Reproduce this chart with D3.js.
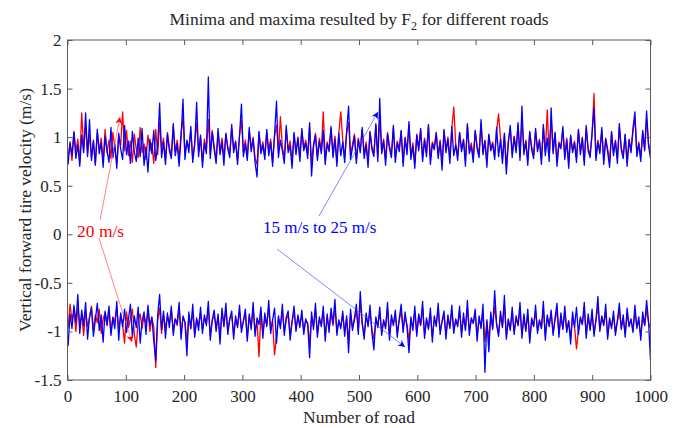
<!DOCTYPE html>
<html lang="en">
<head>
<meta charset="utf-8">
<title>Minima and maxima resulted by F2</title>
<script src="https://d3js.org/d3.v7.min.js"></script>
<style>
    body { margin: 0; background: #fff; }
    text { font-family: "Liberation Serif", "Times New Roman", serif; fill: #262626; }
    .frame { fill: none; stroke: #5a5a5a; stroke-width: 1; }
    .tick line { stroke: #5a5a5a; }
</style>
</head>
<body>
<svg width="681" height="428"></svg>
<script>
// axis ticks
var xTicks = [0, 100, 200, 300, 400, 500, 600, 700, 800, 900, 1000];
var yTicks = [-1.5, -1, -0.5, 0, 0.5, 1, 1.5, 2];

// 300 samples along the 1000 roads
var nSamples = 300;

// maxima, 20 m/s (red)
var redMax = [
 0.80,0.93,0.76,1.06,0.85,0.98,0.74,1.25,0.88,1.12,0.83,1.02,0.79,0.95,0.73,1.04,0.87,0.99,0.75,1.08,
 0.84,0.97,0.78,1.05,0.89,0.73,1.01,0.92,1.26,0.86,1.07,0.81,0.96,0.74,1.03,0.88,0.79,1.10,0.84,0.93,
 0.77,1.02,0.86,0.94,0.73,1.08,0.82,1.15,0.88,0.99,0.76,1.05,0.90,0.81,1.11,0.85,0.97,0.78,1.04,1.20,
 0.83,0.96,0.89,1.06,0.78,0.94,1.14,0.85,1.00,0.75,0.98,0.87,1.18,0.82,1.07,0.91,0.77,1.05,0.86,0.99,
 0.79,1.03,0.90,0.84,1.09,0.88,0.95,0.76,1.02,1.17,0.85,0.97,0.80,1.06,0.89,1.00,0.78,0.72,1.04,0.87,
 0.95,0.81,1.05,0.86,0.98,0.75,1.01,1.12,0.84,1.21,0.90,0.79,1.08,0.87,0.96,0.74,1.03,0.85,1.00,0.80,
 1.06,0.89,0.97,0.82,1.10,0.74,0.93,1.04,0.80,0.99,0.86,1.26,0.78,0.95,0.88,1.09,0.83,1.01,0.76,1.05,
 1.26,0.97,0.79,1.04,1.15,0.82,0.92,1.03,0.78,0.99,0.88,1.08,0.83,0.95,0.75,1.06,0.90,0.84,1.12,0.80,
 1.18,0.87,0.98,0.77,1.05,0.91,0.83,1.10,0.79,0.96,0.88,1.06,0.75,1.00,0.86,1.13,0.81,0.94,0.74,1.03,
 0.89,1.07,0.79,0.99,0.84,1.11,0.77,0.95,0.90,1.05,0.82,0.97,0.73,1.06,0.87,1.00,0.78,1.09,1.31,0.93,
 0.81,1.04,0.88,0.98,0.76,1.12,0.86,0.94,0.79,1.06,0.91,0.83,1.14,0.85,0.97,0.75,1.02,0.89,0.95,0.81,
 1.07,1.24,0.99,0.78,1.03,0.70,0.96,1.09,0.83,1.01,0.87,1.12,0.80,1.18,0.86,0.97,0.76,1.05,0.90,0.82,
 1.06,0.88,0.98,0.77,1.10,0.85,1.28,0.80,1.20,0.86,1.04,0.76,0.95,0.90,1.08,0.81,0.99,0.74,1.01,0.87,
 0.96,0.79,1.06,0.85,1.00,0.76,1.09,0.88,0.83,1.03,1.45,0.80,0.97,0.86,1.07,0.77,0.99,0.88,0.74,1.04,
 0.84,0.97,0.78,1.10,0.89,0.82,1.02,0.75,0.98,0.87,1.06,1.20,0.83,0.95,0.79,1.05,0.88,1.18,0.93,0.86
];

// maxima, 15 m/s to 25 m/s (blue)
var blueMax = [
 0.72,0.95,0.81,1.05,0.78,0.92,0.70,1.02,0.84,1.25,0.80,1.18,0.76,0.97,0.71,1.08,0.83,0.94,0.69,1.01,
 0.86,0.74,1.10,0.79,0.93,0.68,1.04,0.88,0.77,1.12,0.82,0.96,0.73,1.06,0.85,0.75,0.99,0.80,1.09,0.71,
 0.90,0.64,0.98,0.83,1.07,0.76,0.91,1.35,0.79,0.95,0.72,1.03,0.86,0.78,1.14,0.81,0.93,0.70,1.00,1.39,
 0.77,0.97,0.84,1.11,0.74,0.92,1.36,0.80,1.02,0.69,0.94,0.83,1.62,0.78,1.05,0.87,0.73,1.09,0.82,0.95,
 0.71,1.04,0.88,0.79,1.13,0.84,0.96,0.72,1.01,1.34,0.80,0.93,0.76,1.10,0.85,0.98,0.74,0.59,1.06,0.83,
 0.92,0.77,1.08,0.81,0.95,0.70,1.03,1.37,0.79,0.97,0.86,0.73,1.12,0.84,0.91,0.68,1.05,0.82,0.99,0.75,
 1.09,0.86,0.94,0.78,1.15,0.60,0.90,1.02,0.76,0.96,0.83,1.07,0.72,0.93,0.85,1.11,0.79,0.98,0.70,1.04,
 0.81,0.95,0.74,1.06,1.32,0.77,0.89,1.01,0.73,0.97,0.84,1.10,0.78,0.92,0.69,1.05,0.87,0.80,1.14,0.75,
 1.40,0.83,0.96,0.71,1.03,0.88,0.79,1.12,0.74,0.94,0.85,1.07,0.70,0.99,0.82,1.16,0.77,0.91,0.68,1.02,
 0.86,1.09,0.75,0.97,0.80,1.13,0.72,0.93,0.87,1.04,0.78,0.95,0.66,1.08,0.84,0.98,0.73,1.11,0.81,0.92,
 0.76,1.05,0.85,0.97,0.70,1.14,0.83,0.91,0.74,1.07,0.88,0.79,1.18,0.82,0.96,0.69,1.03,0.86,0.93,0.77,
 1.10,0.80,0.98,0.73,1.04,0.62,0.94,1.12,0.79,1.00,0.84,1.15,0.76,1.32,0.82,0.95,0.71,1.06,0.87,0.78,
 1.09,0.85,0.96,0.72,1.13,0.81,0.99,0.75,1.30,0.83,1.05,0.70,0.93,0.88,1.11,0.77,0.97,0.68,1.02,0.84,
 0.94,0.74,1.08,0.82,0.99,0.71,1.12,0.86,0.79,1.04,1.30,0.76,0.95,0.83,1.10,0.72,0.98,0.85,0.69,1.06,
 0.81,0.96,0.73,1.14,0.87,0.78,1.03,0.70,0.97,0.84,1.09,1.26,0.80,0.93,0.75,1.07,0.86,1.27,0.91,0.78
];

// minima, 20 m/s (red)
var redMin = [
 -0.97,-0.72,-0.88,-0.80,-1.00,-0.76,-0.92,-0.84,-1.04,-0.79,-0.95,-0.86,-0.74,-0.99,-0.83,-0.91,-0.77,-1.02,-0.87,-0.81,
 -0.94,-0.78,-1.01,-0.85,-0.90,-0.75,-0.98,-0.83,-0.93,-1.12,-0.80,-0.96,-0.87,-0.77,-1.03,-1.16,-0.89,-0.82,-0.97,-0.84,
 -0.92,-0.79,-1.00,-0.86,-0.95,-1.37,-0.88,-0.76,-1.02,-0.83,-0.96,-0.85,-0.91,-0.78,-0.99,-0.87,-0.94,-0.75,-1.01,-0.86,
 -0.90,-1.10,-0.84,-0.97,-0.79,-1.03,-0.88,-0.93,-0.81,-0.98,-0.86,-0.92,-0.76,-1.04,-0.89,-0.83,-0.96,-0.85,-1.05,-0.80,
 -0.93,-0.78,-0.99,-0.87,-0.84,-1.02,-0.88,-0.94,-0.79,-0.97,-0.90,-0.82,-1.06,-0.85,-0.95,-0.77,-1.00,-0.89,-1.26,-0.81,
 -1.01,-0.86,-0.93,-0.76,-0.98,-0.89,-1.24,-1.05,-0.87,-0.94,-0.79,-1.00,-0.88,-0.83,-1.03,-0.90,-0.80,-0.97,-0.86,-0.92,
 -0.84,-0.99,-0.89,-0.91,-1.12,-0.85,-0.95,-0.78,-1.02,-0.88,-0.93,-0.80,-1.04,-0.86,-0.97,-0.82,-0.94,-0.75,-0.99,-0.90,
 -0.95,-0.83,-1.00,-0.87,-1.09,-0.82,-0.96,-0.89,-0.78,-0.99,-0.70,-0.93,-1.03,-0.85,-0.92,-0.80,-0.98,-1.08,-0.88,-0.94,
 -0.81,-1.00,-0.90,-0.95,-0.77,-1.04,-0.87,-0.92,-0.83,-1.01,-0.89,-0.79,-0.97,-0.85,-0.93,-1.10,-0.88,-0.96,-0.80,-1.02,
 -0.86,-0.94,-0.76,-1.03,-0.89,-0.96,-0.82,-1.05,-0.88,-0.92,-0.78,-0.99,-0.90,-0.84,-1.02,-0.87,-0.95,-0.79,-0.98,-0.89,
 -0.93,-0.80,-1.01,-0.86,-0.97,-0.76,-0.99,-0.88,-0.91,-0.82,-1.04,-0.87,-0.95,-0.79,-1.10,-0.90,-1.08,-0.85,-0.96,-0.74,
 -0.92,-1.02,-0.84,-0.95,-0.73,-1.05,-0.89,-0.97,-0.81,-1.00,-0.87,-0.93,-0.78,-1.03,-0.86,-0.98,-0.83,-1.07,-0.90,-0.94,
 -0.80,-0.99,-0.89,-0.96,-0.77,-1.04,-0.86,-0.93,-0.82,-1.01,-0.88,-0.79,-1.02,-0.85,-0.97,-0.81,-0.98,-0.90,-1.06,-0.84,
 -0.95,-1.18,-0.99,-0.87,-0.92,-0.78,-1.03,-0.86,-0.97,-0.83,-1.01,-0.89,-0.74,-0.98,-0.86,-0.93,-0.80,-1.04,-0.88,-0.95,
 -0.84,-1.00,-0.90,-0.79,-0.96,-0.87,-1.02,-0.82,-0.94,-0.88,-0.99,-0.80,-0.95,-0.89,-1.05,-0.85,-0.93,-0.78,-0.91,-0.97
];

// minima, 15 m/s to 25 m/s (blue)
var blueMin = [
 -1.15,-0.82,-0.97,-0.73,-0.91,-0.62,-1.02,-0.78,-0.94,-0.70,-1.08,-0.85,-0.76,-1.05,-0.88,-0.71,-0.99,-0.83,-1.11,-0.79,
 -0.93,-0.74,-1.04,-0.86,-0.97,-0.69,-1.09,-0.81,-0.95,-0.77,-1.01,-0.87,-0.72,-1.06,-0.84,-0.96,-0.75,-1.12,-0.89,-0.80,
 -1.03,-0.73,-0.94,-0.85,-1.10,-1.30,-0.83,-0.62,-0.98,-0.79,-1.07,-0.81,-0.96,-0.74,-1.04,-0.87,-0.92,-0.70,-1.08,-0.84,
 -0.91,-1.25,-0.80,-0.97,-0.72,-1.06,-0.86,-0.99,-0.75,-1.02,-0.83,-0.94,-0.69,-1.09,-0.88,-0.78,-1.00,-0.82,-1.13,-0.76,
 -0.95,-0.71,-1.03,-0.87,-0.79,-1.08,-0.84,-0.96,-0.73,-1.01,-0.89,-0.77,-1.10,-0.82,-0.98,-0.70,-1.05,-0.86,-0.93,-0.75,
 -1.07,-0.81,-0.95,-0.68,-1.02,-0.88,-0.76,-1.12,-0.84,-0.97,-0.72,-1.04,-0.85,-0.79,-1.09,-0.90,-0.74,-1.00,-0.83,-0.96,
 -0.78,-1.03,-0.87,-0.93,-1.27,-0.80,-0.98,-0.71,-1.06,-0.85,-0.95,-0.74,-1.10,-0.82,-1.01,-0.76,-0.92,-0.67,-1.04,-0.88,
 -0.97,-0.79,-1.05,-0.84,-1.22,-0.77,-0.99,-0.86,-0.72,-1.03,-0.59,-0.91,-1.08,-0.81,-0.95,-0.73,-1.02,-1.19,-0.85,-0.96,
 -0.75,-1.04,-0.88,-0.97,-0.70,-1.09,-0.83,-0.94,-0.78,-1.06,-0.87,-0.72,-1.01,-0.80,-0.96,-1.22,-0.85,-0.99,-0.74,-1.05,
 -0.82,-0.93,-0.69,-1.07,-0.86,-0.98,-0.76,-1.11,-0.84,-0.95,-0.71,-1.03,-0.89,-0.79,-1.08,-0.83,-0.97,-0.73,-1.02,-0.87,
 -0.95,-0.74,-1.06,-0.81,-0.99,-0.68,-1.04,-0.86,-0.92,-0.77,-1.10,-0.84,-0.97,-0.72,-1.42,-0.88,-1.21,-0.80,-0.98,-0.58,
 -0.93,-1.05,-0.79,-0.96,-0.63,-1.08,-0.87,-0.99,-0.75,-1.03,-0.84,-0.94,-0.70,-1.07,-0.82,-1.00,-0.77,-1.12,-0.86,-0.95,
 -0.73,-1.02,-0.88,-0.97,-0.69,-1.09,-0.83,-0.95,-0.78,-1.04,-0.86,-0.71,-1.06,-0.81,-0.98,-0.74,-1.01,-0.89,-1.13,-0.80,
 -0.96,-0.75,-1.03,-0.85,-0.93,-0.70,-1.07,-0.82,-0.99,-0.77,-1.05,-0.88,-0.64,-1.00,-0.84,-0.94,-0.72,-1.08,-0.86,-0.97,
 -0.79,-1.04,-0.89,-0.71,-0.98,-0.83,-1.06,-0.76,-0.95,-0.87,-1.01,-0.73,-0.97,-0.85,-1.09,-0.80,-0.94,-0.68,-0.90,-1.30
];

var roads = d3.range(nSamples).map(function (i) { return 1 + i * 999 / (nSamples - 1); });

var svg = d3.select("svg");
// plot box (note: "top" is reserved on window, so use a prefix)
var boxL = 67.5, boxR = 650.5, boxT = 40, boxB = 380;

var x = d3.scaleLinear().domain([0, 1000]).range([boxL, boxR]);
var y = d3.scaleLinear().domain([-1.5, 2]).range([boxB, boxT]);

svg.append("rect").attr("width", 681).attr("height", 428).attr("fill", "#fff");

var defs = svg.append("defs");
defs.append("clipPath").attr("id", "plotclip")
    .append("rect").attr("x", boxL).attr("y", boxT)
    .attr("width", boxR - boxL).attr("height", boxB - boxT);

var line = d3.line()
    .x(function (d, i) { return x(roads[i]); })
    .y(function (d) { return y(d); });

var series = [
    { values: redMax, color: "#ff0000" },
    { values: redMin, color: "#ff0000" },
    { values: blueMax, color: "#0000ff" },
    { values: blueMin, color: "#0000ff" }
];

svg.append("g").attr("clip-path", "url(#plotclip)")
    .selectAll("path")
    .data(series)
    .enter().append("path")
    .attr("fill", "none")
    .attr("stroke", function (d) { return d.color; })
    .attr("stroke-width", 1.3)
    .attr("stroke-linejoin", "round")
    .attr("d", function (d) { return line(d.values); });

// axes, matlab style: ticks inside on all four sides
function styleAxis(g) {
    g.select(".domain").remove();
    g.selectAll("text").style("font-size", "17px").attr("fill", "#262626");
}

svg.append("g").attr("transform", "translate(0," + boxB + ")")
    .call(d3.axisBottom(x).tickValues(xTicks).tickSize(-5).tickPadding(10).tickFormat(d3.format("d")))
    .call(styleAxis);
svg.append("g").attr("transform", "translate(0," + boxT + ")")
    .call(d3.axisTop(x).tickValues(xTicks).tickSize(-5).tickFormat(""))
    .call(styleAxis);
svg.append("g").attr("transform", "translate(" + boxL + ",0)")
    .call(d3.axisLeft(y).tickValues(yTicks).tickSize(-5).tickPadding(6).tickFormat(function (d) { return String(d); }))
    .call(styleAxis);
svg.append("g").attr("transform", "translate(" + boxR + ",0)")
    .call(d3.axisRight(y).tickValues(yTicks).tickSize(-5).tickFormat(""))
    .call(styleAxis);

svg.append("rect").attr("class", "frame")
    .attr("x", boxL).attr("y", boxT)
    .attr("width", boxR - boxL).attr("height", boxB - boxT);

// title with subscript
var title = svg.append("text")
    .attr("x", (boxL + boxR) / 2).attr("y", 25)
    .attr("text-anchor", "middle")
    .style("font-size", "17.5px");
title.append("tspan").text("Minima and maxima resulted by F");
title.append("tspan").attr("dy", 5).style("font-size", "12px").text("2");
title.append("tspan").attr("dy", -5).text(" for different roads");

svg.append("text")
    .attr("x", (boxL + boxR) / 2).attr("y", 423)
    .attr("text-anchor", "middle")
    .style("font-size", "17.5px")
    .text("Number of road");

svg.append("text")
    .attr("transform", "translate(31," + ((boxT + boxB) / 2) + ") rotate(-90)")
    .attr("text-anchor", "middle")
    .style("font-size", "17.5px")
    .text("Vertical forward tire velocity (m/s)");

// annotations
["red", "blue"].forEach(function (c) {
    defs.append("marker")
        .attr("id", "head-" + c)
        .attr("viewBox", "0 0 10 10")
        .attr("refX", 10).attr("refY", 5)
        .attr("markerUnits", "userSpaceOnUse")
        .attr("markerWidth", 9).attr("markerHeight", 7)
        .attr("orient", "auto")
        .append("path").attr("d", "M0,0 L10,5 L0,10 L3,5 Z")
        .attr("fill", c === "red" ? "#ff0000" : "#0000ff");
});

var arrows = [
    { from: [100, 220], to: [120, 117], c: "red" },
    { from: [99, 238], to: [132, 342], c: "red" },
    { from: [319, 216], to: [378, 112], c: "blue" },
    { from: [277, 249], to: [405, 347], c: "blue" }
];
svg.selectAll("line.arrow")
    .data(arrows)
    .enter().append("line")
    .attr("class", "arrow")
    .attr("x1", function (d) { return d.from[0]; })
    .attr("y1", function (d) { return d.from[1]; })
    .attr("x2", function (d) { return d.to[0]; })
    .attr("y2", function (d) { return d.to[1]; })
    .attr("stroke", function (d) { return d.c === "red" ? "#ff5050" : "#5050ff"; })
    .attr("stroke-width", 0.7)
    .attr("marker-end", function (d) { return "url(#head-" + d.c + ")"; });

svg.append("text").attr("x", 77).attr("y", 237)
    .style("font-size", "17.5px").style("fill", "#ff0000").text("20 m/s");
svg.append("text").attr("x", 263).attr("y", 233)
    .style("font-size", "17px").style("fill", "#0000ff").text("15 m/s to 25 m/s");
</script>
</body>
</html>
